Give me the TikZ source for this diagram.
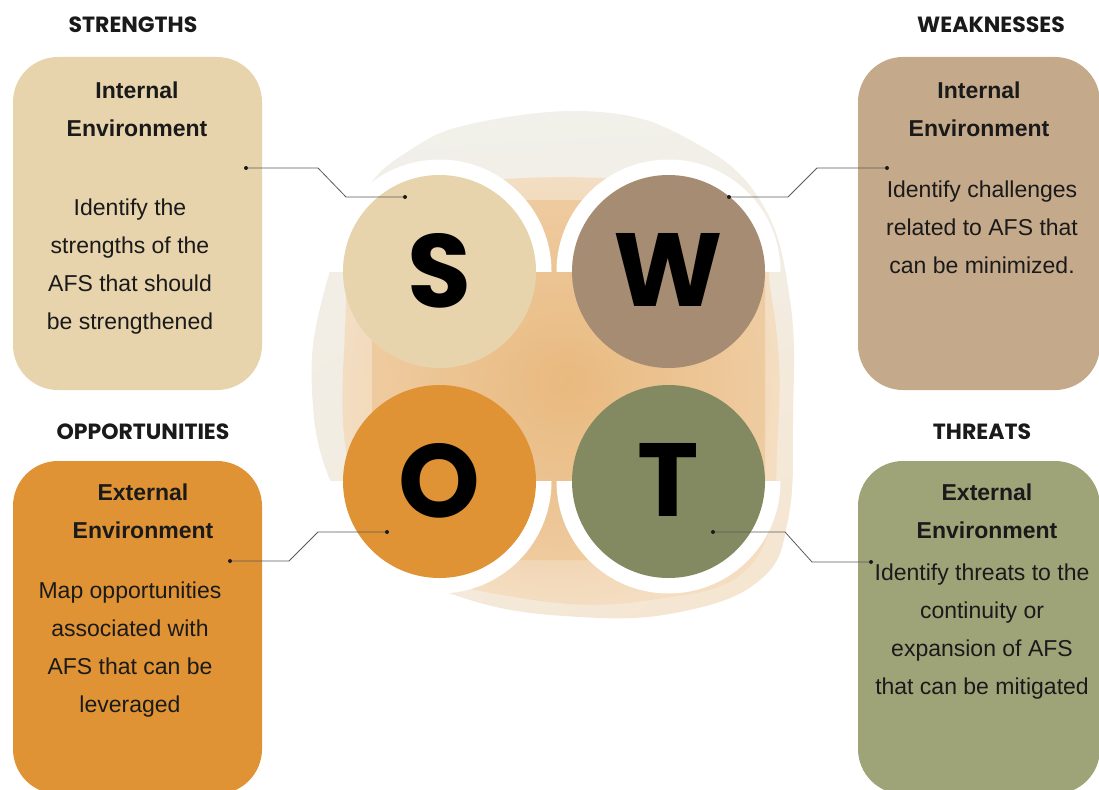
\documentclass[tikz,border=0pt]{standalone}
\usepackage{fontspec}
\setmainfont{Liberation Sans}
\newfontfamily\headfont{Poppins}
\usetikzlibrary{positioning,shadings}
\definecolor{sfill}{HTML}{E7D3AC}
\definecolor{wcirc}{HTML}{A68C72}
\definecolor{wfill}{HTML}{C4A98B}
\definecolor{ofill}{HTML}{E09334}
\definecolor{tcirc}{HTML}{838A61}
\definecolor{tfill}{HTML}{9EA478}
\definecolor{blobgrey}{HTML}{F1F0EA}
\definecolor{blobout}{HTML}{F6E4CE}
\definecolor{blobpeach}{HTML}{F4DCBE}
\definecolor{blobmid}{HTML}{E9B87C}
\definecolor{ink}{HTML}{1A1A1A}
\definecolor{wire}{HTML}{5A5A5A}

\begin{document}
\begin{tikzpicture}[x=1pt, y=-1pt,
    box/.style={rounded corners=45pt, minimum width=249pt, minimum height=333pt, inner sep=0pt},
    rbox/.style={box, minimum width=242pt},
    letter/.style={circle, minimum size=193pt, inner sep=0pt,
      font=\headfont\bfseries\fontsize{104}{104}\selectfont},
    head/.style={font=\headfont\bfseries\fontsize{22}{26}\selectfont, text=ink},
    title/.style={align=center, font=\bfseries\fontsize{23}{38}\selectfont, text=ink},
    body/.style={align=center, font=\fontsize{23}{38}\selectfont, text=ink},
    link/.style={wire, line width=0.8pt},
    dot/.style={circle, fill=ink, minimum size=4pt, inner sep=0pt}]
  \useasboundingbox (0,0) rectangle (1099,789);

  % soft background behind the letters
  \shade[upper left=blobgrey, upper right=blobgrey, lower left=blobgrey!60!blobout,
    lower right=blobout] plot[smooth cycle, tension=0.7] coordinates {(480,122) (600,112)
    (690,140) (760,200) (790,300) (793,420) (788,520) (760,580) (680,612) (580,617)
    (470,600) (380,555) (330,480) (312,390) (322,300) (360,200) (410,150)};
  \shade[inner color=blobmid, outer color=blobpeach, opacity=0.85]
    plot[smooth cycle, tension=0.7] coordinates {(420,190) (600,178) (740,205) (772,300)
    (778,430) (755,560) (650,600) (520,598) (405,560) (350,470) (345,330) (360,230)};
  \shade[inner color=blobmid, outer color=blobmid!60!blobpeach, opacity=0.75, rounded corners=60pt]
    (372,200) rectangle (765,560);

  \coordinate (S0) at (439.5,271.5);
  \coordinate (W0) at (668.5,271.5);
  \coordinate (O0) at (439.5,481.5);
  \coordinate (T0) at (668.5,481.5);
  \begin{scope}
    \clip (300,100) rectangle (800,271.5);
    \fill[white] (S0) circle[radius=112];
    \fill[white] (W0) circle[radius=112];
  \end{scope}
  \begin{scope}
    \clip (300,481.5) rectangle (800,650);
    \fill[white] (O0) circle[radius=112];
    \fill[white] (T0) circle[radius=112];
  \end{scope}

  \node[letter, fill=sfill] (S) at (S0) {\raisebox{3pt}{S}};
  \node[letter, fill=wcirc] (W) at (W0) {\raisebox{3pt}{W}};
  \node[letter, fill=ofill] (O) at (O0) {\raisebox{3pt}{O}};
  \node[letter, fill=tcirc] (T) at (T0) {\raisebox{3pt}{T}};

  \node[box, fill=sfill] (sbox) at (137.5,223.5) {};
  \node[rbox, fill=wfill] (wbox) at (979,223.5) {};
  \node[box, fill=ofill] (obox) at (137.5,627.5) {};
  \node[rbox, fill=tfill] (tbox) at (979,627.5) {};

  \node[head] (shead) at (133,25) {STRENGTHS};
  \node[head] (whead) at (991,25) {WEAKNESSES};
  \node[head] (ohead) at (143,432) {OPPORTUNITIES};
  \node[head] (thead) at (982,432) {THREATS};

  \node[title] (stitle) at (137,109) {Internal\\Environment};
  \node[title] (wtitle) at (979,109) {Internal\\Environment};
  \node[title] (otitle) at (143,511) {External\\Environment};
  \node[title] (ttitle) at (987,511) {External\\Environment};

  \node[body] (stext) at (130,267) {Identify the\\strengths of the\\AFS that should\\be strengthened};
  \node[body] (wtext) at (982,227) {Identify challenges\\related to AFS that\\can be minimized.};
  \node[body] (otext) at (130,650) {Map opportunities\\associated with\\AFS that can be\\leveraged};
  \node[body] (ttext) at (982,632) {Identify threats to the\\continuity or\\expansion of AFS\\that can be mitigated};

  \node[dot] (sa) at (246,168) {};
  \node[dot] (sb) at (405,197) {};
  \node[dot] (wa) at (729,197) {};
  \node[dot] (wb) at (887,168) {};
  \node[dot] (oa) at (230,561) {};
  \node[dot] (ob) at (387,532) {};
  \node[dot] (ta) at (713,532) {};
  \node[dot] (tb) at (871,562) {};
  \draw[link] (sa) -- ++(72,0) -- ++(28,29) -- (sb);
  \draw[link] (wa) -- ++(59,0) -- ++(29,-29) -- (wb);
  \draw[link] (oa) -- ++(59,0) -- ++(29,-29) -- (ob);
  \draw[link] (ta) -- ++(72,0) -- ++(27,30) -- (tb);
\end{tikzpicture}
\end{document}
